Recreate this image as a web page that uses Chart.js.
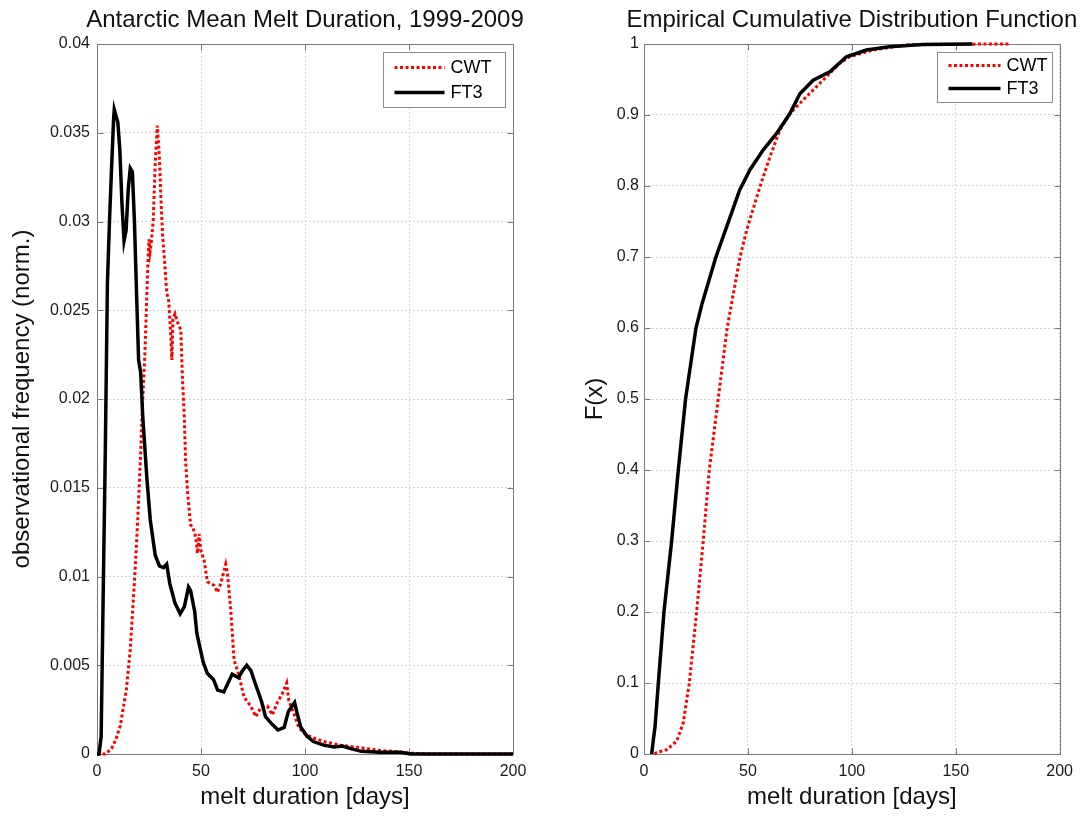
<!DOCTYPE html>
<html>
<head>
<meta charset="utf-8">
<title>Antarctic melt duration</title>
<script src="https://cdn.jsdelivr.net/npm/chart.js@4.4.1/dist/chart.umd.min.js"></script>
<style>
  body { margin: 0; background: #fff; }
  #wrap { position: relative; width: 1081px; height: 817px; }
  canvas { position: absolute; top: 0; }
  #meltChart { left: 0; }
  #cdfChart { left: 540px; }
</style>
</head>
<body>
<div id="wrap">
  <canvas id="meltChart" width="540" height="817"></canvas>
  <canvas id="cdfChart" width="541" height="817"></canvas>
</div>
<script>
// melt duration histogram, normalised
const cwtDays = [0, 4, 7, 9, 11.2, 14.1, 16, 18, 19.5, 21, 22, 23, 24, 24.5, 25, 25.5, 26, 27, 28, 29, 30, 30.7, 31.5, 32.6,
  33.5, 34.5, 35.5, 36, 36.5, 37.5, 38.5, 39.5, 40.3, 41.1, 41.9, 42.6, 43.5, 45, 46, 47.5, 48.3, 49.1, 49.9, 51.5, 53.1,
  56.3, 57.9, 59.5, 61.9, 62.7, 64.3, 65.9, 68.3, 70.7, 73.9, 76.3, 78.7, 81.9, 84.3, 86.7, 89.1, 91.2, 92.2, 94.6, 97,
  100.2, 104.2, 109, 117, 123.4, 129.8, 136.2, 144.2, 150, 160, 200];
const cwtFreq = [0, 0, 0.0003, 0.0008, 0.0016, 0.0036, 0.0059, 0.0097, 0.013, 0.017, 0.020, 0.0225, 0.026, 0.0278, 0.029, 0.0283,
  0.0287, 0.030, 0.0333, 0.0354, 0.0336, 0.0314, 0.0293, 0.0276, 0.026, 0.0255, 0.0235, 0.0222, 0.0245, 0.0248, 0.0244,
  0.0241, 0.0239, 0.0211, 0.0192, 0.0165, 0.0148, 0.0129, 0.0128, 0.0122, 0.0113, 0.0124, 0.0115, 0.0109, 0.0097, 0.0095,
  0.0091, 0.0096, 0.0107, 0.0102, 0.0081, 0.0053, 0.0044, 0.0032, 0.0027, 0.0021, 0.0026, 0.0027, 0.0022, 0.0029, 0.0034,
  0.0040, 0.0030, 0.0023, 0.0015, 0.0011, 0.0009, 0.0007, 0.0005, 0.0004, 0.0003, 0.0002, 0.00013, 0.00005, 0, 0];

const ft3Days = [0, 1, 2, 3, 4, 5, 6, 7, 8, 8.3, 9, 10, 11, 12, 13, 14, 15, 16, 17, 18, 19, 20, 21, 22, 24, 25.6, 28, 30, 32,
  33.5, 35, 37.5, 40, 42, 44, 45, 47, 48, 51, 53, 56, 58, 61, 63, 65, 68, 70, 72, 74, 76, 79, 81, 84, 87, 90, 92, 95, 96, 98,
  101, 104, 109, 114, 118, 122, 127, 136, 146, 151, 160, 200];
const ft3Freq = [0, 0, 0.001, 0.0092, 0.0171, 0.0265, 0.030, 0.033, 0.0358, 0.0363, 0.0360, 0.0356, 0.034, 0.031, 0.0289,
  0.0295, 0.0318, 0.0330, 0.0328, 0.030, 0.026, 0.0222, 0.0215, 0.019, 0.0155, 0.0132, 0.0112, 0.0106, 0.0105, 0.0107,
  0.0096, 0.0085, 0.0079, 0.0083, 0.0094, 0.0092, 0.0080, 0.0068, 0.0052, 0.00455, 0.0042, 0.0036, 0.0035, 0.0040, 0.0045,
  0.0043, 0.0047, 0.0050, 0.0047, 0.0040, 0.0030, 0.0021, 0.0017, 0.00135, 0.0015, 0.0024, 0.0029, 0.0024, 0.0015, 0.0010,
  0.0007, 0.0005, 0.0004, 0.00045, 0.0003, 0.00015, 0.0001, 0.0001, 0, 0, 0];

// empirical cumulative distribution
const cwtCdfDays = [5, 6.1, 10.9, 15.7, 18.9, 21.8, 25.3, 28.5, 31.4, 35.7, 40, 46.2, 49.4, 55.8, 60.6, 65.4, 70.2, 78.2,
  87.8, 94.2, 99, 110, 126, 140, 176];
const cwtCdf = [0, 0.002, 0.006, 0.018, 0.044, 0.1, 0.2, 0.3, 0.4, 0.5, 0.6, 0.7, 0.738, 0.799, 0.841, 0.879, 0.902, 0.926,
  0.954, 0.973, 0.982, 0.9915, 0.9986, 0.9996, 1];

const ft3CdfDays = [3.7, 4.5, 5.3, 6.9, 9.6, 13.3, 16.5, 20, 25, 28, 34.6, 41.3, 46, 51, 57.4, 63.8, 70.2, 75, 81.4, 89.4,
  97.4, 107, 118, 134, 158];
const ft3Cdf = [0, 0.02, 0.038, 0.1, 0.2, 0.3, 0.4, 0.5, 0.6, 0.635, 0.7, 0.755, 0.794, 0.823, 0.851, 0.874, 0.902, 0.93,
  0.949, 0.961, 0.982, 0.9915, 0.996, 0.9994, 1];

const seriesNames = ['CWT', 'FT3'];

const FONT = "'Liberation Sans', Arial, sans-serif";
Chart.defaults.font.family = FONT;
Chart.defaults.color = '#1a1a1a';

function toPoints(xs, ys) {
  return xs.map((x, i) => ({ x: x, y: ys[i] }));
}

function cwtStyle(points) {
  return { label: seriesNames[0], data: points, borderColor: '#ff0000', borderWidth: 3,
    borderDash: [3, 2.5], borderCapStyle: 'butt', pointRadius: 0, tension: 0, order: 1, clip: 6 };
}
function ft3Style(points) {
  return { label: seriesNames[1], data: points, borderColor: '#000000', borderWidth: 3.5,
    pointRadius: 0, tension: 0, order: 0, clip: 6 };
}

// title is centred on the plot area but allowed to run wider than it
const wideTitle = {
  id: 'wideTitle',
  afterLayout(chart) {
    const t = chart.titleBlock, a = chart.chartArea;
    if (!t) return;
    const c = (a.left + a.right) / 2;
    t.left = c - 270;
    t.right = c + 270;
    t.width = 540;
  }
};

// frame round the plot with inward ticks on all four sides (under the lines),
// legend box in the upper right corner (over the lines)
const axesBox = {
  id: 'axesBox',
  beforeDatasetsDraw(chart) {
    const { ctx, chartArea: a, scales } = chart;
    const L = Math.round(a.left) + 0.5, R = Math.round(a.right) + 0.5;
    const T = Math.round(a.top) + 0.5, B = Math.round(a.bottom) + 0.5;
    ctx.save();
    ctx.strokeStyle = '#7a7a7a';
    ctx.lineWidth = 1;
    ctx.beginPath();
    scales.x.ticks.forEach(t => {
      const px = Math.round(scales.x.getPixelForValue(t.value)) + 0.5;
      ctx.moveTo(px, B); ctx.lineTo(px, B - 6);
      ctx.moveTo(px, T); ctx.lineTo(px, T + 6);
    });
    scales.y.ticks.forEach(t => {
      const py = Math.round(scales.y.getPixelForValue(t.value)) + 0.5;
      ctx.moveTo(L, py); ctx.lineTo(L + 6, py);
      ctx.moveTo(R, py); ctx.lineTo(R - 6, py);
    });
    ctx.stroke();
    ctx.strokeRect(L, T, R - L, B - T);
    ctx.restore();
  },
  afterDatasetsDraw(chart, args, opts) {
    const { ctx, chartArea: a } = chart;
    const bw = opts.width, bh = opts.height;
    const bx = Math.round(a.right - opts.marginRight - bw) + 0.5;
    const by = Math.round(a.top + opts.marginTop) + 0.5;
    ctx.save();
    ctx.fillStyle = '#ffffff';
    ctx.fillRect(bx, by, bw, bh);
    ctx.strokeStyle = '#8c8c8c';
    ctx.lineWidth = 1;
    ctx.strokeRect(bx, by, bw, bh);
    ctx.font = opts.fontSize + 'px ' + FONT;
    ctx.textBaseline = 'middle';
    ctx.textAlign = 'left';
    chart.data.datasets.forEach((ds, i) => {
      const y = by + opts.firstRow + i * opts.rowGap;
      ctx.save();
      ctx.strokeStyle = ds.borderColor;
      ctx.lineWidth = ds.borderWidth;
      ctx.lineCap = 'butt';
      ctx.setLineDash(ds.borderDash || []);
      ctx.beginPath();
      ctx.moveTo(bx + opts.lineStart, y);
      ctx.lineTo(bx + opts.lineStart + opts.lineLength, y);
      ctx.stroke();
      ctx.restore();
      ctx.fillStyle = '#000000';
      ctx.fillText(ds.label, bx + opts.lineStart + opts.lineLength + 6, y + 1);
    });
    ctx.restore();
  }
};

function gridOpts() {
  return { color: '#d6d6d6', drawTicks: false };
}
function borderOpts() {
  return { display: false, dash: [2, 2] };
}

const ctx1 = document.getElementById('meltChart').getContext('2d');
const meltChart = new Chart(ctx1, {
  type: 'line',
  data: {
    datasets: [
      cwtStyle(toPoints(cwtDays, cwtFreq)),
      ft3Style(toPoints(ft3Days, ft3Freq))
    ]
  },
  options: {
    responsive: false,
    animation: false,
    events: [],
    layout: { padding: { left: 0, right: 27, top: 0, bottom: 0 } },
    scales: {
      x: {
        type: 'linear', min: 0, max: 200,
        afterFit: s => { s.height = 63; },
        ticks: { stepSize: 50, padding: 8, font: { size: 16 }, color: '#1a1a1a' },
        grid: gridOpts(), border: borderOpts(),
        title: { display: true, text: 'melt duration [days]', font: { size: 24 }, color: '#111',
          padding: { top: 0, bottom: 5.6 } }
      },
      y: {
        type: 'linear', min: 0, max: 0.04,
        afterFit: s => { s.width = 97; },
        ticks: { stepSize: 0.005, padding: 7, font: { size: 16 }, color: '#1a1a1a',
          callback: v => String(Number(v.toFixed(3))) },
        grid: gridOpts(), border: borderOpts(),
        title: { display: true, text: 'observational frequency (norm.)', font: { size: 24 }, color: '#111',
          padding: { top: 7.6, bottom: 0 } }
      }
    },
    plugins: {
      legend: { display: false },
      tooltip: { enabled: false },
      title: { display: true, fullSize: false, text: 'Antarctic Mean Melt Duration, 1999-2009',
        font: { size: 24, weight: 'normal' }, color: '#111', padding: { top: 6.1, bottom: 9.1 } },
      axesBox: { width: 122, height: 55, marginRight: 8, marginTop: 8, firstRow: 15, rowGap: 25,
        lineStart: 11, lineLength: 50, fontSize: 18 }
    }
  },
  plugins: [wideTitle, axesBox]
});

const ctx2 = document.getElementById('cdfChart').getContext('2d');
const cdfChart = new Chart(ctx2, {
  type: 'line',
  data: {
    datasets: [
      cwtStyle(toPoints(cwtCdfDays, cwtCdf)),
      ft3Style(toPoints(ft3CdfDays, ft3Cdf))
    ]
  },
  options: {
    responsive: false,
    animation: false,
    events: [],
    layout: { padding: { left: 0, right: 21, top: 0, bottom: 0 } },
    scales: {
      x: {
        type: 'linear', min: 0, max: 200,
        afterFit: s => { s.height = 63; },
        ticks: { stepSize: 50, padding: 8, font: { size: 16 }, color: '#1a1a1a' },
        grid: gridOpts(), border: borderOpts(),
        title: { display: true, text: 'melt duration [days]', font: { size: 24 }, color: '#111',
          padding: { top: 0, bottom: 5.6 } }
      },
      y: {
        type: 'linear', min: 0, max: 1,
        afterFit: s => { s.width = 104; },
        ticks: { stepSize: 0.1, padding: 5, font: { size: 16 }, color: '#1a1a1a',
          callback: v => String(Number(v.toFixed(1))) },
        grid: gridOpts(), border: borderOpts(),
        title: { display: true, text: 'F(x)', font: { size: 24 }, color: '#111',
          padding: { top: 40.6, bottom: 0 } }
      }
    },
    plugins: {
      legend: { display: false },
      tooltip: { enabled: false },
      title: { display: true, fullSize: false, text: 'Empirical Cumulative Distribution Function',
        font: { size: 24, weight: 'normal' }, color: '#111', padding: { top: 6.1, bottom: 9.1 } },
      axesBox: { width: 115, height: 50, marginRight: 8, marginTop: 8, firstRow: 13, rowGap: 23,
        lineStart: 11, lineLength: 52, fontSize: 18 }
    }
  },
  plugins: [wideTitle, axesBox]
});
</script>
</body>
</html>
